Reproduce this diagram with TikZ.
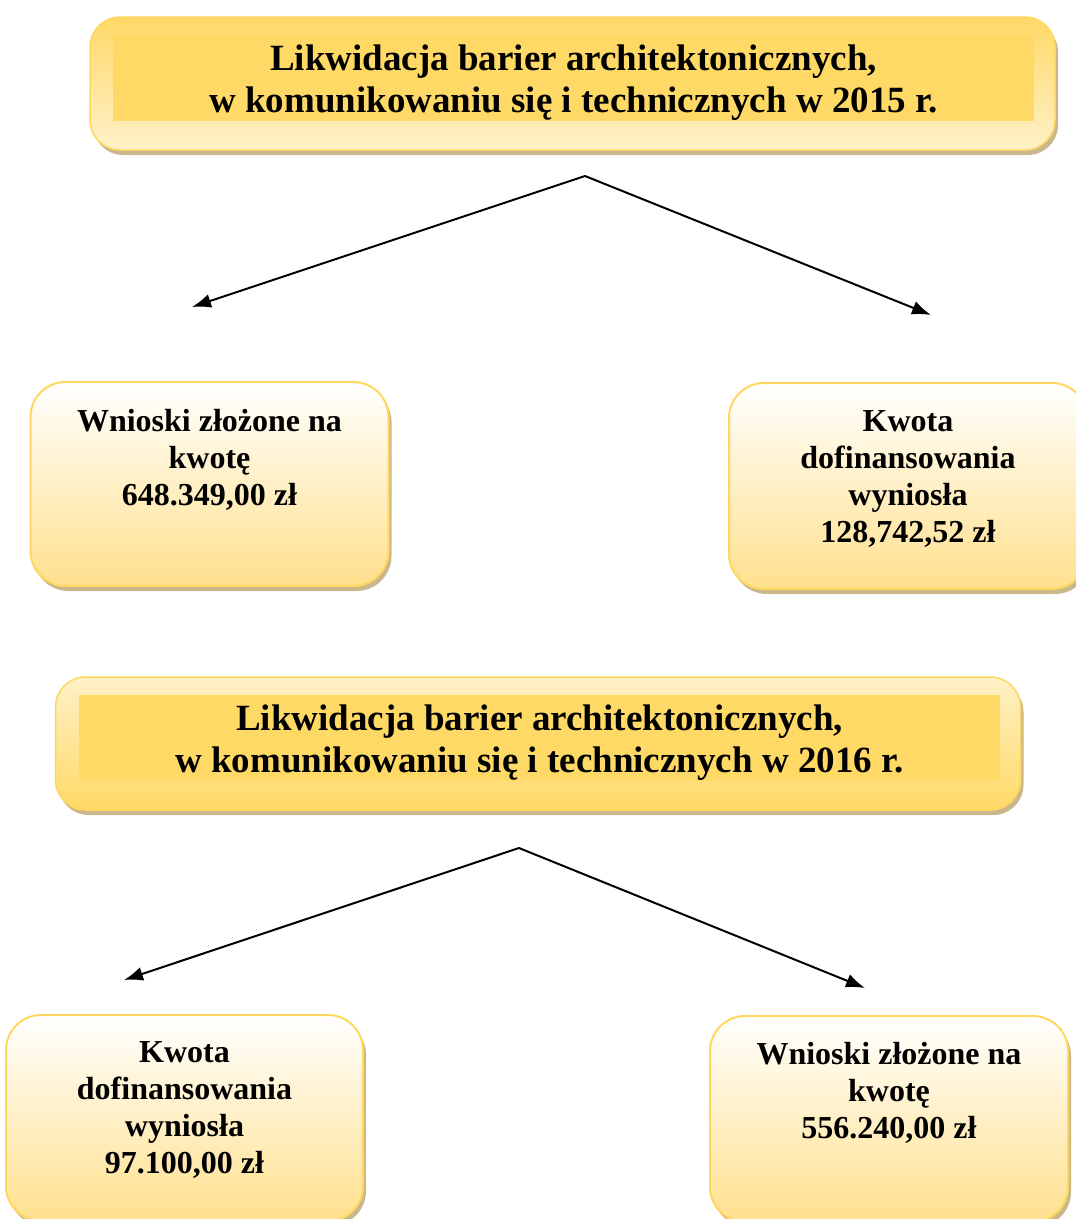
\documentclass[tikz,border=0pt]{standalone}
\usepackage{fontspec}
\setmainfont{Liberation Serif}
\usetikzlibrary{positioning,shadows,arrows.meta}
\definecolor{goldc}{HTML}{FFD966}
\definecolor{creamc}{HTML}{FFF1C8}
\definecolor{rimc}{HTML}{FFD75E}
\definecolor{shadowc}{HTML}{C9B88C}
\definecolor{kidbot}{HTML}{FFE08D}
\tikzset{
  headbox/.style={draw=rimc, line width=1.5pt, rounded corners=30pt,
    minimum width=965pt, minimum height=133pt, inner sep=0pt,
    drop shadow={shadow xshift=3pt, shadow yshift=-5pt, fill=shadowc, opacity=1}},
  headband/.style={fill=goldc, minimum width=921pt, minimum height=86pt, inner sep=0pt},
  headtext/.style={font=\bfseries\fontsize{37}{42}\selectfont, align=center, anchor=north, inner sep=0pt},
  kidbox/.style={draw=rimc, line width=2pt, rounded corners=35pt,
    top color=white, bottom color=kidbot, inner sep=0pt,
    minimum width=358pt, minimum height=204pt,
    drop shadow={shadow xshift=3pt, shadow yshift=-5pt, fill=shadowc, opacity=1}},
  kidtext/.style={font=\bfseries\fontsize{32}{37}\selectfont, align=center, anchor=north, inner sep=0pt},
  link/.style={-{Latex[length=19pt,width=14pt]}, line width=2pt}
}
\begin{document}
\begin{tikzpicture}[x=1pt, y=-1pt]
  \useasboundingbox (0,0) rectangle (1076,1219);

  % 2015
  \node[headbox, top color=goldc, bottom color=creamc] (head1) at (572.5,83.5) {};
  \node[headband] (band1) at (573.5,78) {};
  \node[headtext] (title1) at ([yshift=-10pt]band1.north)
    {Likwidacja barier architektonicznych,\\w komunikowaniu się i technicznych w 2015 r.};

  \node[kidbox] (kid1a) at (209.5,484) {};
  \node[kidbox, minimum height=206pt] (kid1b) at (908,486) {};
  \node[kidtext] (txt1a) at ([yshift=-28pt]kid1a.north) {Wnioski złożone na\\kwotę\\648.349,00 zł};
  \node[kidtext] (txt1b) at ([yshift=-28pt]kid1b.north) {Kwota\\dofinansowania\\wyniosła\\128,742,52 zł};

  \coordinate (fork1) at (585,176);
  \coordinate (end1a) at (192,307);
  \coordinate (end1b) at (931,315);
  \draw[link] (fork1) -- (end1a);
  \draw[link] (fork1) -- (end1b);

  % 2016
  \node[headbox, top color=creamc, bottom color=goldc] (head2) at (538,743.5) {};
  \node[headband] (band2) at (539.5,738) {};
  \node[headtext] (title2) at ([yshift=-10pt]band2.north)
    {Likwidacja barier architektonicznych,\\w komunikowaniu się i technicznych w 2016 r.};

  \node[kidbox, minimum width=357pt, minimum height=206pt] (kid2a) at (184.5,1118) {};
  \node[kidbox, minimum height=206pt] (kid2b) at (889,1119) {};
  \node[kidtext] (txt2a) at ([yshift=-27pt]kid2a.north) {Kwota\\dofinansowania\\wyniosła\\97.100,00 zł};
  \node[kidtext] (txt2b) at ([yshift=-27pt]kid2b.north) {Wnioski złożone na\\kwotę\\556.240,00 zł};

  \coordinate (fork2) at (519,848);
  \coordinate (end2a) at (124,980);
  \coordinate (end2b) at (865,988);
  \draw[link] (fork2) -- (end2a);
  \draw[link] (fork2) -- (end2b);
\end{tikzpicture}
\end{document}
